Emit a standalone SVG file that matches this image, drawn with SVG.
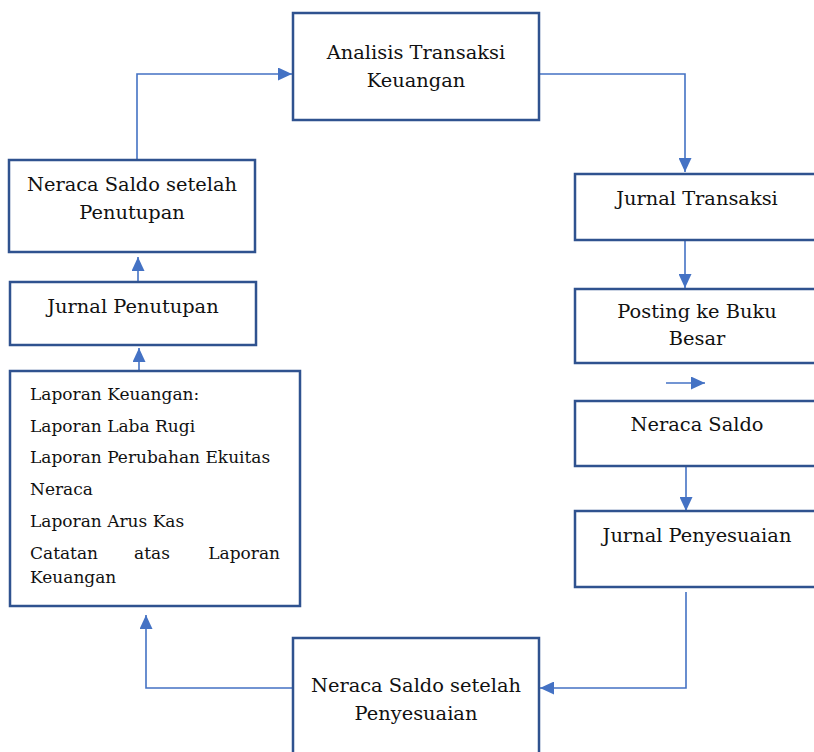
<svg xmlns="http://www.w3.org/2000/svg" width="814" height="752" viewBox="0 0 814 752">
<style>
.box{fill:#fff;stroke:#2f528f;stroke-width:2.5}
.t{font-family:"DejaVu Serif",serif;font-size:19.4px;fill:#111}
.s{font-size:17px}
.c{text-anchor:middle}
.con{fill:none;stroke:#4472c4;stroke-width:1.6}
</style>
<defs>
<marker id="ah" markerWidth="14" markerHeight="13" refX="14" refY="6.5" orient="auto" markerUnits="userSpaceOnUse" viewBox="0 0 14 13">
<path d="M0,0 L14,6.5 L0,13 z" fill="#4472c4"/>
</marker>
</defs>
<rect width="814" height="752" fill="#fff"/>
<g id="connectors">
<path class="con" d="M137,160 V74 H292" marker-end="url(#ah)"/>
<path class="con" d="M539,74 H685 V172" marker-end="url(#ah)"/>
<path class="con" d="M685,241 V288" marker-end="url(#ah)"/>
<path class="con" d="M666,383 H705" marker-end="url(#ah)"/>
<path class="con" d="M686,467 V511" marker-end="url(#ah)"/>
<path class="con" d="M686,592 V688 H540" marker-end="url(#ah)"/>
<path class="con" d="M293,688 H146 V615" marker-end="url(#ah)"/>
<path class="con" d="M139,371 V348" marker-end="url(#ah)"/>
<path class="con" d="M138,282 V257" marker-end="url(#ah)"/>
</g>
<g id="analisis">
<rect class="box" x="293" y="13" width="246" height="107"/>
<text class="t c" x="416" y="59">Analisis Transaksi</text>
<text class="t c" x="416" y="87">Keuangan</text>
</g>
<g id="jurnal-transaksi">
<rect class="box" x="575" y="174" width="250" height="66"/>
<text class="t c" x="697" y="205">Jurnal Transaksi</text>
</g>
<g id="posting">
<rect class="box" x="575" y="289" width="250" height="74"/>
<text class="t c" x="697" y="318">Posting ke Buku</text>
<text class="t c" x="697" y="345">Besar</text>
</g>
<g id="neraca-saldo">
<rect class="box" x="575" y="401" width="250" height="65"/>
<text class="t c" x="697" y="431">Neraca Saldo</text>
</g>
<g id="jurnal-penyesuaian">
<rect class="box" x="575" y="511" width="250" height="76"/>
<text class="t c" x="697" y="542">Jurnal Penyesuaian</text>
</g>
<g id="neraca-penyesuaian">
<rect class="box" x="293" y="638" width="246" height="130"/>
<text class="t c" x="416" y="692">Neraca Saldo setelah</text>
<text class="t c" x="416" y="720">Penyesuaian</text>
</g>
<g id="laporan">
<rect class="box" x="10" y="371" width="290" height="235"/>
<text class="t s" x="30" y="400">Laporan Keuangan:</text>
<text class="t s" x="30" y="432">Laporan Laba Rugi</text>
<text class="t s" x="30" y="463">Laporan Perubahan Ekuitas</text>
<text class="t s" x="30" y="495">Neraca</text>
<text class="t s" x="30" y="527">Laporan Arus Kas</text>
<text class="t s" x="30" y="559">Catatan</text>
<text class="t s c" x="152" y="559">atas</text>
<text class="t s" x="280" y="559" text-anchor="end">Laporan</text>
<text class="t s" x="30" y="583">Keuangan</text>
</g>
<g id="jurnal-penutupan">
<rect class="box" x="10" y="282" width="246" height="63"/>
<text class="t c" x="133" y="313">Jurnal Penutupan</text>
</g>
<g id="neraca-penutupan">
<rect class="box" x="9" y="160" width="246" height="92"/>
<text class="t c" x="132" y="191">Neraca Saldo setelah</text>
<text class="t c" x="132" y="219">Penutupan</text>
</g>
</svg>
